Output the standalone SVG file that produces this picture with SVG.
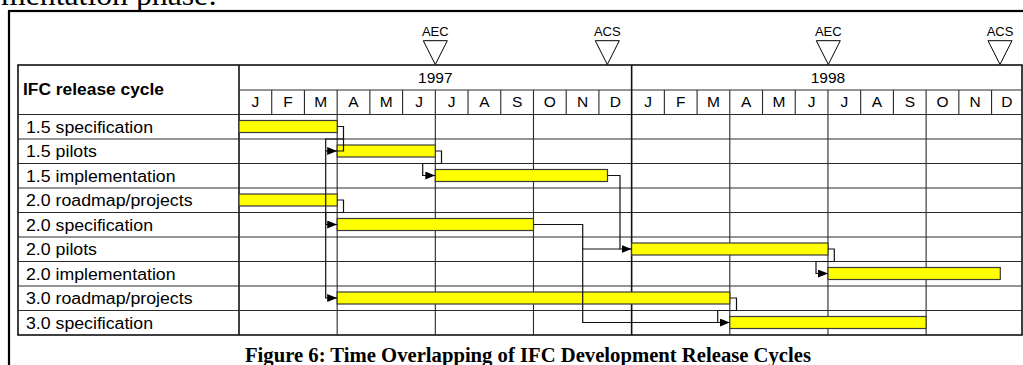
<svg xmlns="http://www.w3.org/2000/svg" width="1023" height="365" viewBox="0 0 1023 365">
<defs>
<style>
.frame{fill:none;stroke:#000;stroke-width:2.2}
.grid{fill:none;stroke:#2a2a2a;stroke-width:1.1}
.thick{fill:none;stroke:#111;stroke-width:1.6}
.bar{fill:#ffff00;stroke:#3a3a3a;stroke-width:1.2}
.lbl{font-family:"Liberation Sans",Arial,sans-serif;font-size:16px;fill:#000}
.hdr{font-family:"Liberation Sans",Arial,sans-serif;font-size:16px;font-weight:bold;fill:#000}
.mon{font-family:"Liberation Sans",Arial,sans-serif;font-size:15.5px;fill:#000;text-anchor:middle}
.ms{font-family:"Liberation Sans",Arial,sans-serif;font-size:13px;fill:#000;text-anchor:middle}
.tri{fill:#fff;stroke:#000;stroke-width:1}
.conn{fill:none;stroke:#111;stroke-width:1.2}
.cap{font-family:"Liberation Serif","Times New Roman",serif;font-size:20.5px;font-weight:bold;fill:#000}
.body{font-family:"Liberation Serif","Times New Roman",serif;font-size:30px;fill:#000}
</style>
<marker id="arr" markerUnits="userSpaceOnUse" markerWidth="10" markerHeight="8" refX="10" refY="4" orient="auto">
<path d="M0,0 L10,4 L0,8 z" fill="#000"/>
</marker>
</defs>
<rect width="1023" height="365" fill="#fff"/>
<text class="body" x="1" y="5" textLength="216" lengthAdjust="spacingAndGlyphs">mentation phase:</text>
<rect class="frame" x="9" y="11" width="1040" height="400"/>

<g id="table">
<rect class="thick" x="18" y="65" width="1004" height="270"/>
<line class="thick" x1="239" y1="65" x2="239" y2="335"/>
<line class="grid" x1="239" y1="90" x2="1022" y2="90"/>
<line class="grid" x1="18" y1="114.5" x2="1022" y2="114.5"/>
<line class="grid" x1="18" y1="139" x2="1022" y2="139"/>
<line class="grid" x1="18" y1="163.5" x2="1022" y2="163.5"/>
<line class="grid" x1="18" y1="188" x2="1022" y2="188"/>
<line class="grid" x1="18" y1="212.5" x2="1022" y2="212.5"/>
<line class="grid" x1="18" y1="237" x2="1022" y2="237"/>
<line class="grid" x1="18" y1="261.5" x2="1022" y2="261.5"/>
<line class="grid" x1="18" y1="286" x2="1022" y2="286"/>
<line class="grid" x1="18" y1="310.5" x2="1022" y2="310.5"/>
<path class="grid" d="M271.72,90V114.5M304.44,90V114.5M369.88,90V114.5M402.6,90V114.5M468.04,90V114.5M500.76,90V114.5M566.2,90V114.5M598.92,90V114.5M664.36,90V114.5M697.08,90V114.5M762.52,90V114.5M795.24,90V114.5M860.68,90V114.5M893.4,90V114.5M958.84,90V114.5M991.56,90V114.5"/>
<path class="grid" d="M337.16,90V335M435.32,90V335M533.48,90V335M729.8,90V335M827.96,90V335M926.12,90V335"/>
<line class="thick" x1="631.64" y1="65" x2="631.64" y2="335"/>
<text class="hdr" x="23" y="95" textLength="141" lengthAdjust="spacingAndGlyphs">IFC release cycle</text>
<text class="mon" x="435.3" y="83.3">1997</text>
<text class="mon" x="828" y="83.3">1998</text>
<g class="mon">
<text x="255.4" y="106.7">J</text><text x="288.1" y="106.7">F</text><text x="320.8" y="106.7">M</text><text x="353.5" y="106.7">A</text><text x="386.2" y="106.7">M</text><text x="419" y="106.7">J</text><text x="451.7" y="106.7">J</text><text x="484.4" y="106.7">A</text><text x="517.1" y="106.7">S</text><text x="549.8" y="106.7">O</text><text x="582.6" y="106.7">N</text><text x="615.3" y="106.7">D</text>
<text x="648" y="106.7">J</text><text x="680.7" y="106.7">F</text><text x="713.4" y="106.7">M</text><text x="746.2" y="106.7">A</text><text x="778.9" y="106.7">M</text><text x="811.6" y="106.7">J</text><text x="844.3" y="106.7">J</text><text x="877" y="106.7">A</text><text x="909.8" y="106.7">S</text><text x="942.5" y="106.7">O</text><text x="975.2" y="106.7">N</text><text x="1006.8" y="106.7">D</text>
</g>
</g>

<g id="milestones">
<g id="m-aec-1997"><text class="ms" x="435.3" y="36">AEC</text><polygon class="tri" points="423.3,40.7 447.3,40.7 435.3,64.5"/></g>
<g id="m-acs-1997"><text class="ms" x="607.3" y="36">ACS</text><polygon class="tri" points="595.3,40.7 619.3,40.7 607.3,64.5"/></g>
<g id="m-aec-1998"><text class="ms" x="828.3" y="36">AEC</text><polygon class="tri" points="816.3,40.7 840.3,40.7 828.3,64.5"/></g>
<g id="m-acs-1998"><text class="ms" x="1000" y="36">ACS</text><polygon class="tri" points="988,40.7 1012,40.7 1000,64.5"/></g>
</g>

<g id="r15spec"><text class="lbl" x="26" y="132.5" textLength="127" lengthAdjust="spacingAndGlyphs">1.5 specification</text><rect class="bar" x="239" y="120.5" width="98.2" height="12"/></g>
<g id="r15pilots"><text class="lbl" x="26" y="157" textLength="71" lengthAdjust="spacingAndGlyphs">1.5 pilots</text><rect class="bar" x="337.2" y="145" width="98.1" height="12"/></g>
<g id="r15impl"><text class="lbl" x="26" y="181.5" textLength="149.5" lengthAdjust="spacingAndGlyphs">1.5 implementation</text><rect class="bar" x="435.3" y="169.5" width="172.2" height="12"/></g>
<g id="r20road"><text class="lbl" x="26" y="206" textLength="166.5" lengthAdjust="spacingAndGlyphs">2.0 roadmap/projects</text><rect class="bar" x="239" y="194" width="98.2" height="12"/></g>
<g id="r20spec"><text class="lbl" x="26" y="230.5" textLength="127" lengthAdjust="spacingAndGlyphs">2.0 specification</text><rect class="bar" x="337.2" y="218.5" width="196.3" height="12"/></g>
<g id="r20pilots"><text class="lbl" x="26" y="255" textLength="71" lengthAdjust="spacingAndGlyphs">2.0 pilots</text><rect class="bar" x="631.6" y="243" width="196.4" height="12"/></g>
<g id="r20impl"><text class="lbl" x="26" y="279.5" textLength="149.5" lengthAdjust="spacingAndGlyphs">2.0 implementation</text><rect class="bar" x="828" y="267.5" width="172.3" height="12"/></g>
<g id="r30road"><text class="lbl" x="26" y="304" textLength="166.5" lengthAdjust="spacingAndGlyphs">3.0 roadmap/projects</text><rect class="bar" x="337.2" y="292" width="392.6" height="12"/></g>
<g id="r30spec"><text class="lbl" x="26" y="328.5" textLength="127" lengthAdjust="spacingAndGlyphs">3.0 specification</text><rect class="bar" x="729.8" y="316.5" width="196.3" height="12"/></g>

<g id="connectors">
<path class="conn" d="M337.2,126.5H343.5V151H337.2"/>
<path class="conn" d="M343.5,139H325.7V298H337.2" marker-end="url(#arr)"/>
<path class="conn" d="M325.7,151H337.2" marker-end="url(#arr)"/>
<path class="conn" d="M337.2,200H343.5V212.5H325.7V224.5H337.2" marker-end="url(#arr)"/>
<path class="conn" d="M435.3,151H441.5V163.5H422.7V175.5H435.3" marker-end="url(#arr)"/>
<path class="conn" d="M607.5,175.5H620V249H631.6" marker-end="url(#arr)"/>
<path class="conn" d="M533.5,224.5H582.7V249H620"/>
<path class="conn" d="M582.7,249V322.5H729.8" marker-end="url(#arr)"/>
<path class="conn" d="M729.8,298H736.5V310.5H717.7V322.5"/>
<path class="conn" d="M828,249H834.3V261.5H816V273.5H828" marker-end="url(#arr)"/>
</g>

<text class="cap" x="245" y="361.7" textLength="566" lengthAdjust="spacingAndGlyphs">Figure 6: Time Overlapping of IFC Development Release Cycles</text>
</svg>
